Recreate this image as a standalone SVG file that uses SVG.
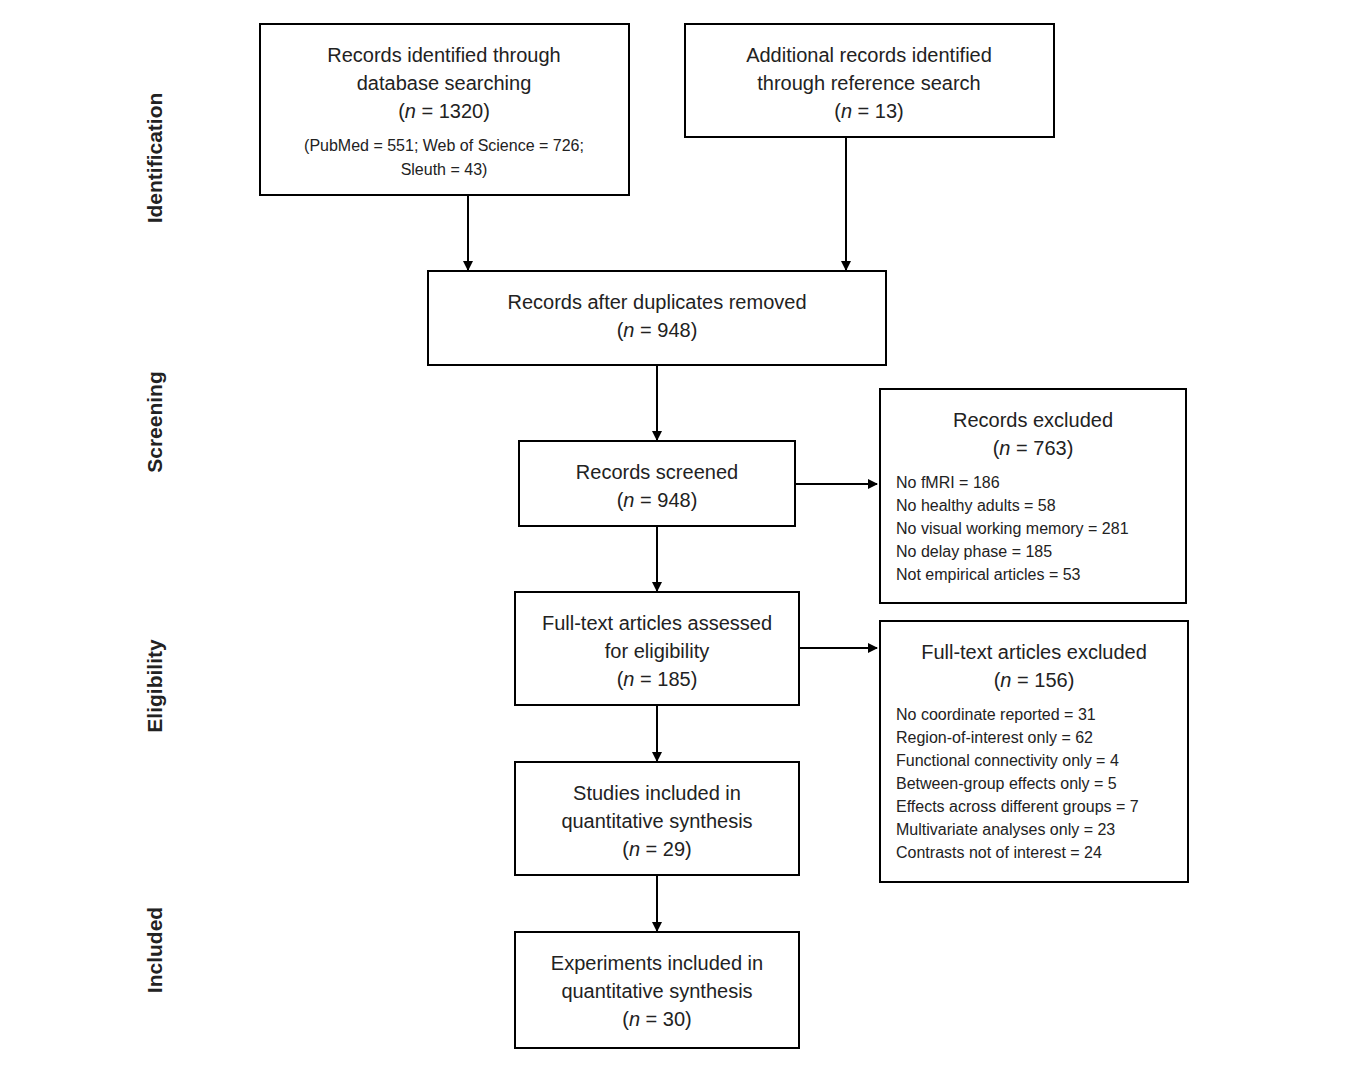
<svg xmlns="http://www.w3.org/2000/svg" width="1346" height="1074" viewBox="0 0 1346 1074">
<style>
.b{fill:#fff;stroke:#000;stroke-width:2}
text{font-family:"Liberation Sans",Arial,sans-serif;fill:#222}
.t{font-size:20px;text-anchor:middle}
.s{font-size:16px}
.sc{font-size:16px;text-anchor:middle}
.side{font-size:21px;font-weight:bold;text-anchor:middle}
.c line{stroke:#000;stroke-width:2;marker-end:url(#a)}
</style>
<defs><marker id="a" markerWidth="10" markerHeight="10" refX="9" refY="5" orient="auto" markerUnits="userSpaceOnUse"><path d="M0,0L10,5L0,10z" fill="#000"/></marker></defs>
<rect width="1346" height="1074" fill="#fff"/>
<g id="labels">
<text class="side" transform="translate(162,158) rotate(-90)">Identification</text>
<text class="side" transform="translate(162,422) rotate(-90)">Screening</text>
<text class="side" transform="translate(162,686) rotate(-90)">Eligibility</text>
<text class="side" transform="translate(162,950) rotate(-90)">Included</text>
</g>
<g id="n1"><rect class="b" x="260" y="24" width="369" height="171"/>
<text class="t" x="444" y="62">Records identified through</text>
<text class="t" x="444" y="90">database searching</text>
<text class="t" x="444" y="118">(<tspan font-style="italic">n</tspan> = 1320)</text>
<text class="sc" x="444" y="151">(PubMed = 551; Web of Science = 726;</text>
<text class="sc" x="444" y="175">Sleuth = 43)</text></g>
<g id="n2"><rect class="b" x="685" y="24" width="369" height="113"/>
<text class="t" x="869" y="62">Additional records identified</text>
<text class="t" x="869" y="90">through reference search</text>
<text class="t" x="869" y="118">(<tspan font-style="italic">n</tspan> = 13)</text></g>
<g id="n3"><rect class="b" x="428" y="271" width="458" height="94"/>
<text class="t" x="657" y="309">Records after duplicates removed</text>
<text class="t" x="657" y="337">(<tspan font-style="italic">n</tspan> = 948)</text></g>
<g id="n4"><rect class="b" x="519" y="441" width="276" height="85"/>
<text class="t" x="657" y="479">Records screened</text>
<text class="t" x="657" y="507">(<tspan font-style="italic">n</tspan> = 948)</text></g>
<g id="n5"><rect class="b" x="880" y="389" width="306" height="214"/>
<text class="t" x="1033" y="427">Records excluded</text>
<text class="t" x="1033" y="455">(<tspan font-style="italic">n</tspan> = 763)</text>
<text class="s" x="896" y="488">No fMRI = 186</text>
<text class="s" x="896" y="511">No healthy adults = 58</text>
<text class="s" x="896" y="534">No visual working memory = 281</text>
<text class="s" x="896" y="557">No delay phase = 185</text>
<text class="s" x="896" y="580">Not empirical articles = 53</text></g>
<g id="n6"><rect class="b" x="515" y="592" width="284" height="113"/>
<text class="t" x="657" y="630">Full-text articles assessed</text>
<text class="t" x="657" y="658">for eligibility</text>
<text class="t" x="657" y="686">(<tspan font-style="italic">n</tspan> = 185)</text></g>
<g id="n7"><rect class="b" x="880" y="621" width="308" height="261"/>
<text class="t" x="1034" y="659">Full-text articles excluded</text>
<text class="t" x="1034" y="687">(<tspan font-style="italic">n</tspan> = 156)</text>
<text class="s" x="896" y="720">No coordinate reported = 31</text>
<text class="s" x="896" y="743">Region-of-interest only = 62</text>
<text class="s" x="896" y="766">Functional connectivity only = 4</text>
<text class="s" x="896" y="789">Between-group effects only = 5</text>
<text class="s" x="896" y="812">Effects across different groups = 7</text>
<text class="s" x="896" y="835">Multivariate analyses only = 23</text>
<text class="s" x="896" y="858">Contrasts not of interest = 24</text></g>
<g id="n8"><rect class="b" x="515" y="762" width="284" height="113"/>
<text class="t" x="657" y="800">Studies included in</text>
<text class="t" x="657" y="828">quantitative synthesis</text>
<text class="t" x="657" y="856">(<tspan font-style="italic">n</tspan> = 29)</text></g>
<g id="n9"><rect class="b" x="515" y="932" width="284" height="116"/>
<text class="t" x="657" y="970">Experiments included in</text>
<text class="t" x="657" y="998">quantitative synthesis</text>
<text class="t" x="657" y="1026">(<tspan font-style="italic">n</tspan> = 30)</text></g>
<g class="c" id="connectors">
<line x1="468" y1="195" x2="468" y2="270"/>
<line x1="846" y1="137" x2="846" y2="270"/>
<line x1="657" y1="365" x2="657" y2="440"/>
<line x1="657" y1="526" x2="657" y2="591"/>
<line x1="795" y1="484" x2="877" y2="484"/>
<line x1="799" y1="648" x2="877" y2="648"/>
<line x1="657" y1="705" x2="657" y2="761"/>
<line x1="657" y1="875" x2="657" y2="931"/>
</g>
</svg>
